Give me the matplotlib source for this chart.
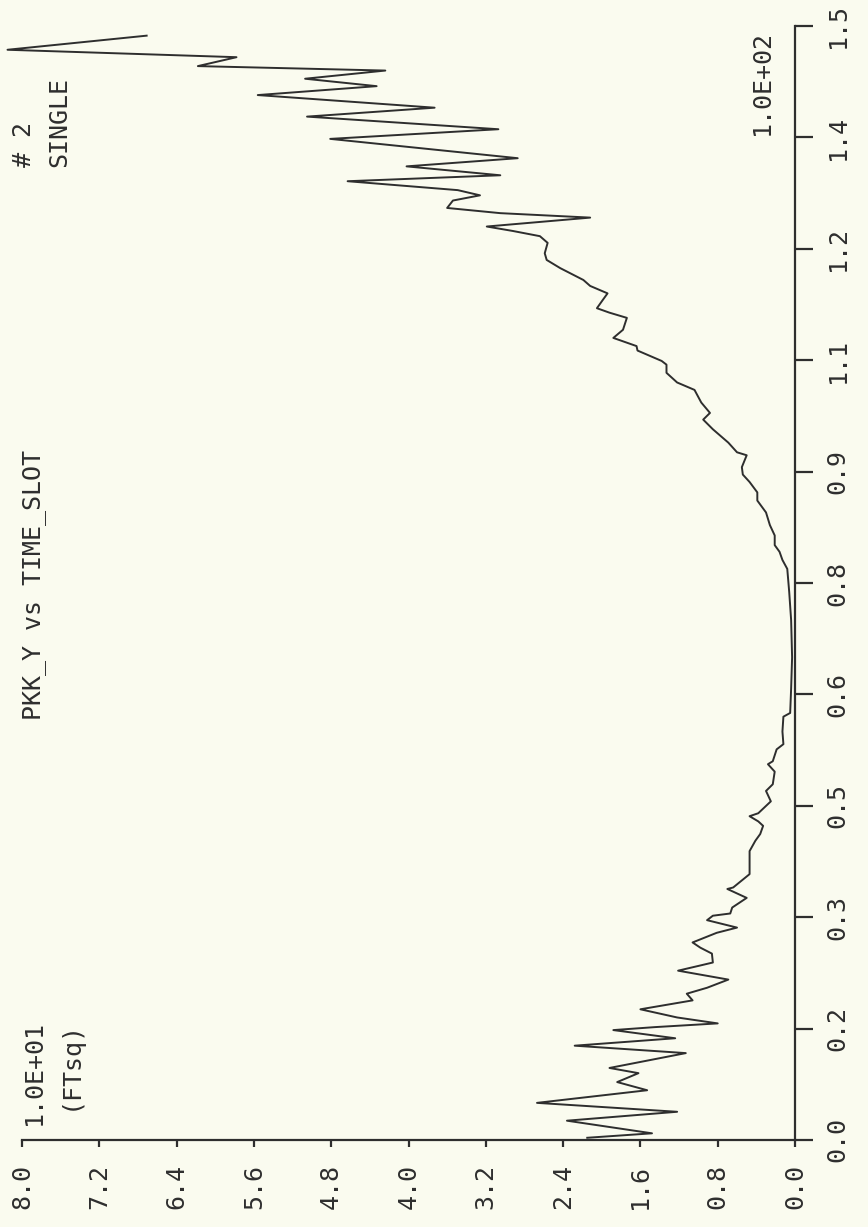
import matplotlib
matplotlib.use("Agg")
import matplotlib.pyplot as plt

plt.rcParams.update({
  "font.family": ["DejaVu Sans Mono"],
  "font.size": 18
})

# (time slot, PKK_Y), time slot in units of 1
time_slot = [0.3, 0.9, 2.6, 3.8, 5.0, 6.7, 7.8, 9.0, 9.7, 11.7, 12.7, 13.7, 14.8, 15.2,
             15.7, 16.5, 17.6, 18.8, 19.7, 20.5, 21.6, 22.8, 23.5, 23.9, 25.1, 25.9,
             26.6, 27.9, 28.6, 29.6, 30.2, 30.5, 31.3, 32.6, 33.8, 34.0, 35.8, 38.9,
             40.3, 41.2, 42.3, 42.9, 43.6, 44.0, 45.6, 47.0, 47.9, 49.6, 50.6, 51.0,
             52.6, 53.3, 55.0, 57.0, 57.5, 60.8, 65.0, 70.0, 73.8, 76.9, 78.1, 79.2,
             80.1, 81.4, 82.8, 84.5, 86.1, 87.2, 88.6, 89.6, 90.6, 92.2, 92.6, 93.9,
             95.7, 97.0, 97.9, 99.3, 101.0, 102.0, 103.3, 104.4, 104.9, 106.3, 106.9,
             108.0, 109.1, 110.7, 111.4, 112.0, 113.1, 114.0, 115.0, 115.8, 117.4,
             118.5, 119.4, 120.8, 121.7, 122.4, 123.0, 124.2, 124.8, 125.5, 126.5,
             127.2, 127.9, 129.1, 129.9, 131.1, 132.2, 134.8, 136.1, 137.8, 139.0,
             140.7, 141.9, 142.9, 144.0, 144.6, 145.8, 146.8, 148.7]
pkk_y = [2.15, 1.48, 2.36, 1.22, 2.67, 1.53, 1.84, 1.62, 1.92, 1.13, 2.28, 1.24, 1.88, 1.45,
         0.80, 1.22, 1.60, 1.06, 1.12, 0.91, 0.69, 1.21, 0.98, 0.85, 0.86, 0.98,
         1.06, 0.81, 0.60, 0.91, 0.85, 0.67, 0.65, 0.50, 0.70, 0.64, 0.47, 0.47,
         0.41, 0.36, 0.33, 0.38, 0.47, 0.38, 0.25, 0.30, 0.23, 0.21, 0.28, 0.23,
         0.19, 0.12, 0.13, 0.12, 0.05, 0.04, 0.03, 0.04, 0.06, 0.08, 0.13, 0.16,
         0.21, 0.21, 0.26, 0.30, 0.39, 0.39, 0.47, 0.54, 0.55, 0.50, 0.60, 0.69,
         0.85, 0.95, 0.88, 0.97, 1.04, 1.22, 1.33, 1.33, 1.38, 1.63, 1.64,
         1.88, 1.78, 1.74, 1.92, 2.05, 1.99, 1.94, 2.12, 2.19, 2.43,
         2.57, 2.59, 2.56, 2.64, 2.92, 3.19, 2.12, 3.05, 3.60, 3.54,
         3.26, 3.49, 4.63, 3.05, 4.02, 2.87, 4.81, 3.07, 5.05, 3.73,
         5.56, 4.33, 5.07, 4.24, 6.18, 5.78, 8.15, 6.71]

y_ticks = [8.0, 7.2, 6.4, 5.6, 4.8, 4.0, 3.2, 2.4, 1.6, 0.8, 0.0]
y_labels = ["8.0", "7.2", "6.4", "5.6", "4.8", "4.0", "3.2", "2.4", "1.6", "0.8", "0.0"]
t_ticks = [0, 15, 30, 45, 60, 75, 90, 105, 120, 135, 150]
t_labels = ["0.0", "0.2", "0.3", "0.5", "0.6", "0.8", "0.9", "1.1", "1.2", "1.4", "1.5"]

W, H = 868, 1227
ink = "#2e2e2e"
paper = "#fafbef"

fig = plt.figure(figsize=(W / 100, H / 100), dpi=100, facecolor=paper)
# the page is the plot turned a quarter turn: PKK_Y runs along the bottom, time up the right
ax = fig.add_axes([22 / W, 1 - 1140 / H, (795 - 22) / W, (1140 - 26) / H])
ax.set_facecolor(paper)
ax.plot(pkk_y, time_slot, color=ink, lw=1.4, clip_on=False)

ax.set_xlim(8, 0)
ax.set_ylim(0, 150)
for s in ["top", "left"]:
    ax.spines[s].set_visible(False)
for s in ["bottom", "right"]:
    ax.spines[s].set_color(ink)
    ax.spines[s].set_linewidth(1.6)

ax.set_xticks(y_ticks)
ax.set_xticklabels(y_labels, rotation=90, ha="center", va="top")
ax.tick_params(axis="x", direction="out", length=5, width=1.6, color=ink, pad=12)
ax.yaxis.tick_right()
ax.set_yticks(t_ticks)
ax.set_yticklabels(t_labels, rotation=90, ha="left", va="center")
ax.tick_params(axis="y", direction="out", length=13, width=1.6, color=ink, pad=9)
for lab in ax.get_xticklabels() + ax.get_yticklabels():
    lab.set_color(ink)

def put(x, y, s, ha, va):
    fig.text(x / W, 1 - y / H, s, rotation=90, ha=ha, va=va, color=ink)

put(22, 1020, "1.0E+01", "left", "top")
put(58, 1020, "(FTsq)", "left", "top")
put(750, 30, "1.0E+02", "left", "top")
put(12, 167, "# 2", "left", "bottom")
put(47, 167, "SINGLE", "left", "bottom")
put(22, 585, "PKK_Y vs TIME_SLOT", "left", "center")

fig.savefig("out.png", dpi=100, facecolor=paper)
